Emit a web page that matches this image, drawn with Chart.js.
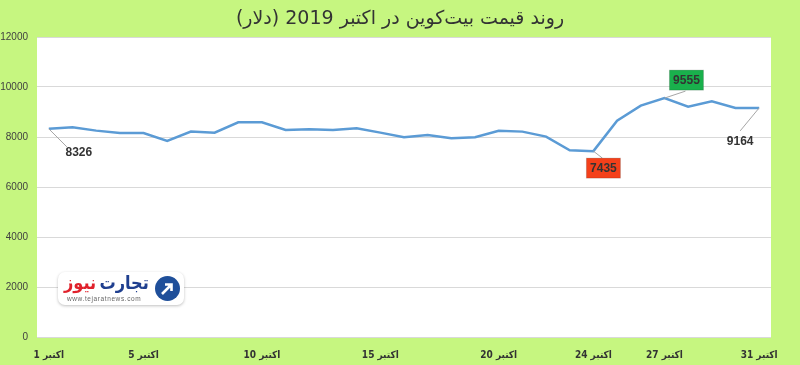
<!DOCTYPE html>
<html>
<head>
<meta charset="utf-8">
<script src="https://cdn.jsdelivr.net/npm/chart.js@4/dist/chart.umd.min.js"></script>
<style>
  html, body { margin: 0; padding: 0; background: #c6f680; }
  #wrap { position: relative; width: 800px; height: 365px; }
  #title {
    position: absolute; left: 0; top: 6px; width: 800px; text-align: center;
    font: 19px "DejaVu Sans", sans-serif; color: #333333;
  }
  #logo {
    position: absolute; left: 58px; top: 272px; width: 126px; height: 33px;
    background: #fff; border-radius: 7px; box-shadow: 0 1px 3px rgba(0,0,0,0.25);
  }
  #logo .name { position: absolute; left: 6px; top: 0px; font: bold 18px "DejaVu Sans Condensed", "DejaVu Sans", sans-serif; white-space: nowrap; }
  #logo .url { position: absolute; left: 9px; top: 23px; font: 6.5px "Liberation Sans", sans-serif; color: #666; letter-spacing: 0.6px; }
  #logo svg { position: absolute; right: 3px; top: 3px; }
</style>
</head>
<body>
<div id="wrap">
  <canvas id="chart" width="800" height="365"></canvas>
  <div id="title" dir="rtl">روند قیمت بیت‌کوین در اکتبر 2019 (دلار)</div>
  <div id="logo">
    <div class="name" dir="rtl"><span style="color:#1f3f8f">تجارت</span>&#8201;<span style="color:#e0212b">نیوز</span></div>
    <div class="url">www.tejaratnews.com</div>
    <svg width="27" height="27" viewBox="0 0 27 27">
      <circle cx="13.5" cy="13.5" r="12.5" fill="#1f4f9a"/>
      <path d="M8 19 L17 10 M11 9.5 L17.5 9.5 L17.5 16" stroke="#fff" stroke-width="2.6" fill="none"/>
    </svg>
  </div>
</div>
<script>
const days = [1,2,3,4,5,6,7,8,9,10,11,12,13,14,15,16,17,18,19,20,21,22,23,24,25,26,27,28,29,30,31];
const labelDays = [1, 5, 10, 15, 20, 24, 27, 31];
const prices = [8326, 8390, 8255, 8160, 8160, 7840, 8215, 8175, 8590, 8590,
                8285, 8310, 8285, 8350, 8175, 7990, 8080, 7950, 7990, 8245,
                8215, 8015, 7470, 7435, 8655, 9255, 9555, 9215, 9425, 9160, 9164];
const yTicks = [0, 2000, 4000, 6000, 8000, 10000, 12000];

// callouts: day index, label offset from point, leader end, box colour
const callouts = [
  { i: 0,  dx: 30,  dy: 23,  lx: 18, ly: 18, bg: null },
  { i: 23, dx: 10,  dy: 17,  lx: 9,  ly: 7,  bg: '#f4401a' },
  { i: 26, dx: 22,  dy: -18, lx: 21, ly: -7, bg: '#19b04c' },
  { i: 30, dx: -19, dy: 33,  lx: -19, ly: 23, bg: null }
];

const plotBg = {
  id: 'plotBg',
  beforeDraw(chart) {
    const { ctx, chartArea: a } = chart;
    ctx.save();
    ctx.fillStyle = '#ffffff';
    ctx.fillRect(a.left, a.top, a.right - a.left, a.bottom - a.top + 1);
    ctx.restore();
  }
};

const calloutPlugin = {
  id: 'callouts',
  afterDatasetsDraw(chart) {
    const ctx = chart.ctx;
    const meta = chart.getDatasetMeta(0);
    ctx.save();
    ctx.font = 'bold 12px "Liberation Sans", sans-serif';
    ctx.textAlign = 'center';
    ctx.textBaseline = 'middle';
    callouts.forEach(c => {
      const p = meta.data[c.i];
      const cx = p.x + c.dx, cy = p.y + c.dy;
      ctx.strokeStyle = '#a6a6a6';
      ctx.lineWidth = 1;
      ctx.beginPath();
      ctx.moveTo(p.x, p.y);
      ctx.lineTo(p.x + c.lx, p.y + c.ly);
      ctx.stroke();
      if (c.bg) {
        ctx.fillStyle = c.bg;
        ctx.fillRect(cx - 17, cy - 10, 34, 20);
        ctx.strokeStyle = 'rgba(0,0,0,0.15)';
        ctx.strokeRect(cx - 17, cy - 10, 34, 20);
      }
      ctx.fillStyle = '#333333';
      ctx.fillText(String(prices[c.i]), cx, cy + 1);
    });
    ctx.restore();
  }
};

new Chart(document.getElementById('chart'), {
  type: 'line',
  data: {
    labels: days,
    datasets: [{
      data: prices,
      borderColor: '#5b9bd5',
      borderWidth: 2.5,
      tension: 0,
      pointRadius: 0,
      fill: false
    }]
  },
  options: {
    responsive: false,
    animation: false,
    layout: { padding: { top: 37, right: 29, bottom: 0, left: 0 } },
    plugins: { legend: { display: false }, tooltip: { enabled: false }, title: { display: false } },
    scales: {
      x: {
        type: 'category',
        offset: true,
        afterFit(scale) { scale.height = 28; },
        grid: { display: false, drawTicks: false },
        border: { display: false },
        ticks: {
          autoSkip: false,
          maxRotation: 0,
          padding: 12,
          color: '#333333',
          font: { family: '"DejaVu Sans Condensed", "DejaVu Sans", sans-serif', size: 10, weight: 'bold' },
          callback(v, i) { return labelDays.includes(days[i]) ? days[i] + ' اکتبر' : ''; }
        }
      },
      y: {
        min: 0,
        max: 12000,
        afterFit(scale) { scale.width = 37; },
        afterBuildTicks(scale) { scale.ticks = yTicks.map(v => ({ value: v })); },
        grid: { color: '#d9d9d9', drawTicks: false },
        border: { display: false },
        ticks: {
          padding: 9,
          color: '#404040',
          font: { family: '"Liberation Sans", sans-serif', size: 10 },
          callback(v) { return String(v); }
        }
      }
    }
  },
  plugins: [plotBg, calloutPlugin]
});
</script>
</body>
</html>
